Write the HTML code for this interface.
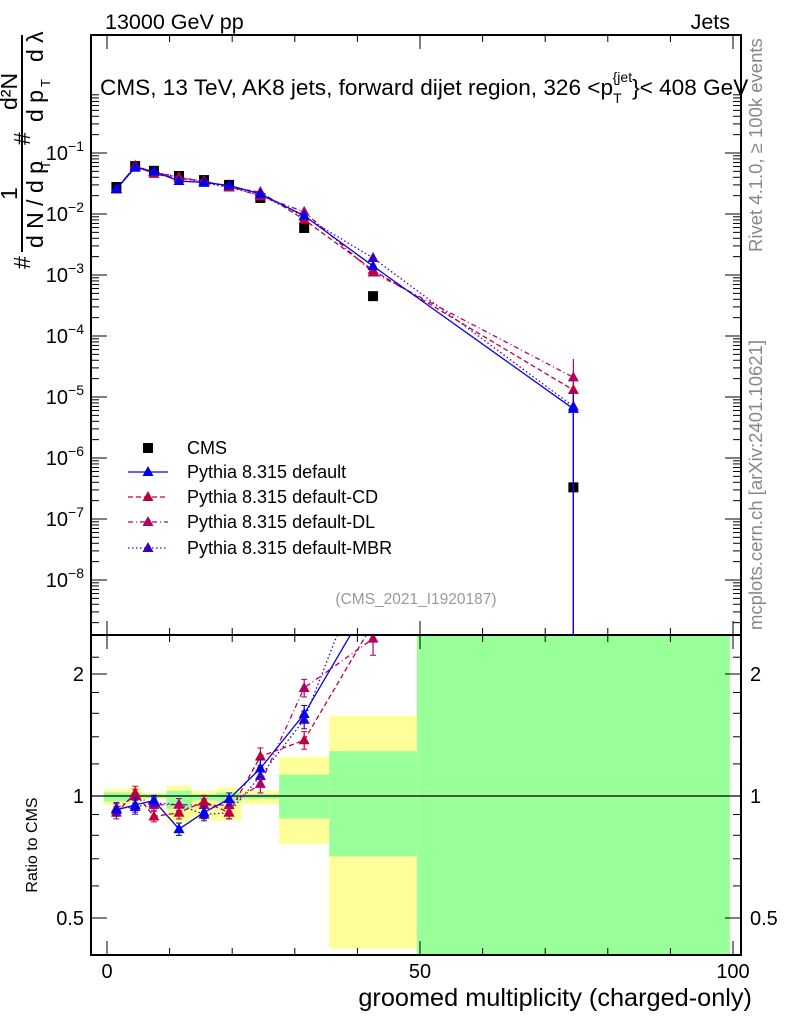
<!DOCTYPE html>
<html><head><meta charset="utf-8"><style>
body{margin:0;background:#fff}
svg{display:block;font-family:"Liberation Sans",sans-serif}
</style></head><body>
<svg id="c" width="786" height="1024" viewBox="0 0 786 1024">
<g id="bands"></g>
<g id="marks"></g>
<g id="axes"></g>
<text x="105" y="29" font-size="21.5">13000 GeV pp</text>
<text x="730" y="29" font-size="21.5" text-anchor="end">Jets</text>
<text x="100" y="95" font-size="22.6">CMS, 13 TeV, AK8 jets, forward dijet region, 326 &lt;p<tspan font-size="14" dy="8">T</tspan><tspan font-size="14" dx="-9" dy="-21">{jet</tspan><tspan dy="13">}&lt; 408 GeV</tspan></text>
<text x="416" y="604" font-size="15.5" fill="#999" text-anchor="middle">(CMS_2021_I1920187)</text>
<text transform="translate(762,252) rotate(-90)" font-size="18.5" fill="#888">Rivet 4.1.0, ≥ 100k events</text>
<text transform="translate(762,630) rotate(-90)" font-size="18.5" fill="#888">mcplots.cern.ch [arXiv:2401.10621]</text>
<g transform="translate(0,272) rotate(-90)" font-size="23">
<text x="3" y="30">#</text>
<line x1="20" y1="22" x2="237" y2="22" stroke="#000" stroke-width="2"/>
<text x="72" y="17">1</text>
<text x="24" y="43">d N / d p</text>
<text x="103" y="50" font-size="13">T</text>
<text x="127" y="30">#</text>
<text x="162" y="17">d²N</text>
<text x="150" y="43">d p</text>
<text x="185" y="50" font-size="13">T</text>
<text x="210" y="43">d λ</text>
</g>
<text transform="translate(37,845) rotate(-90)" font-size="16" text-anchor="middle">Ratio to CMS</text>
<text x="752" y="1006" font-size="25.3" text-anchor="end">groomed multiplicity (charged-only)</text>
<g id="legend"></g>
</svg>
<script>
const binEdges=[-0.5,3.5,5.5,9.5,13.5,17.5,21.5,27.5,35.5,49.5,99.5];
const xCenters=[1.5,4.5,7.5,11.5,15.5,19.5,24.5,31.5,42.5,74.5];
const cms=[0.0277,0.061,0.051,0.042,0.036,0.030,0.0183,0.0059,4.5e-4,3.3e-7];
const pyDefault=[0.0256,0.058,0.0497,0.0348,0.0328,0.0295,0.0214,0.0094,1.4e-3,6.4e-6];
const pyCD=[0.0252,0.062,0.0454,0.0382,0.0349,0.0273,0.0229,0.0081,1.2e-3,1.3e-5];
const pyDL=[0.0258,0.061,0.0485,0.040,0.0342,0.0285,0.0196,0.0109,1.1e-3,2.1e-5];
const pyMBR=[0.0258,0.0573,0.049,0.040,0.0324,0.0273,0.0205,0.0091,1.9e-3,7e-6];
const mcErr=[0.035,0.04,0.03,0.035,0.035,0.035,0.05,0.05,0.09,1.0];
const statHi=[1.02,1.02,1.01,1.03,1.01,1.02,1.01,1.13,1.29,4];
const statLo=[0.97,0.97,0.99,0.93,0.975,0.97,0.985,0.88,0.71,0.2];
const totHi=[1.04,1.05,1.02,1.06,1.03,1.05,1.03,1.25,1.58,4];
const totLo=[0.95,0.96,0.98,0.86,0.87,0.87,0.955,0.76,0.42,0.2];
const xTicks=[0,50,100];
const yDecades=[-1,-2,-3,-4,-5,-6,-7,-8];
const rTicks=[2,1,0.5];

const NS="http://www.w3.org/2000/svg";
const L=91,R=741,T=35,M=635,B=955;
const X=v=>107+6.26*v;
const Y=v=>153-61*(Math.log10(v)+1);
const RY=r=>796-122*Math.log2(r);
function el(tag,attrs,parent){const e=document.createElementNS(NS,tag);for(const k in attrs)e.setAttribute(k,attrs[k]);parent.appendChild(e);return e;}
const bands=document.getElementById('bands'),marks=document.getElementById('marks'),axes=document.getElementById('axes'),legend=document.getElementById('legend');
const clampR=y=>Math.max(M,Math.min(B,y));
for(let i=0;i<cms.length;i++){
  const x1=X(binEdges[i]),x2=X(binEdges[i+1]);
  let y1=clampR(RY(totHi[i])),y2=clampR(RY(totLo[i]));
  const yb=el('rect',{x:x1,y:y1,width:x2-x1,height:y2-y1,fill:'#ffff99'},bands);
  
  
  y1=clampR(RY(statHi[i]));y2=clampR(RY(statLo[i]));
  const gb=el('rect',{x:x1,y:y1,width:x2-x1,height:y2-y1,fill:'#99ff99'},bands);
  
  
}
el('line',{x1:L,x2:R,y1:RY(1),y2:RY(1),stroke:'#000','stroke-width':1.3},bands);
const defs=el('defs',{},document.getElementById('c'));
const cp1=el('clipPath',{id:'top'},defs);el('rect',{x:L,y:T,width:R-L,height:M-T},cp1);
const cp2=el('clipPath',{id:'bot'},defs);el('rect',{x:L,y:M,width:R-L,height:B-M},cp2);
const gTop=el('g',{'clip-path':'url(#top)'},marks);
const gBot=el('g',{'clip-path':'url(#bot)'},marks);
function tri(g,x,y,c){return el('path',{d:`M${x},${y-6}L${x+5.5},${y+4}L${x-5.5},${y+4}Z`,fill:c},g);}
const series=[
 {name:'Pythia 8.315 default',vals:pyDefault,c:'#0000ee',dash:'',key:'default'},
 {name:'Pythia 8.315 default-CD',vals:pyCD,c:'#c0003a',dash:'5,3',key:'cd'},
 {name:'Pythia 8.315 default-DL',vals:pyDL,c:'#b0006a',dash:'5,3,1,3',key:'dl'},
 {name:'Pythia 8.315 default-MBR',vals:pyMBR,c:'#3a00bb',dash:'1.5,2.5',key:'mbr'}];
cms.forEach((v,i)=>{const s=el('rect',{x:X(xCenters[i])-5,y:Y(v)-5,width:10,height:10,fill:'#000'},gTop);
 
 });
series.slice().reverse().forEach(s=>{
  const pts=s.vals.map((v,i)=>X(xCenters[i])+','+Y(v)).join(' ');
  const pl=el('polyline',{points:pts,fill:'none',stroke:s.c,'stroke-width':1.3,'stroke-dasharray':s.dash},gTop);
  
  
  s.vals.forEach((v,i)=>{
    const x=X(xCenters[i]);
    const hi=v*(1+mcErr[i]),lo=v*(1-mcErr[i]);
    el('line',{x1:x,x2:x,y1:Y(hi),y2:lo>0?Y(lo):M,stroke:s.c,'stroke-width':1.2},gTop);
    const t=tri(gTop,x,Y(v),s.c);
    
    
  });
  const rpts=s.vals.map((v,i)=>X(xCenters[i])+','+RY(v/cms[i])).join(' ');
  const rl=el('polyline',{points:rpts,fill:'none',stroke:s.c,'stroke-width':1.3,'stroke-dasharray':s.dash},gBot);
  
  
  s.vals.forEach((v,i)=>{
    const r=v/cms[i],x=X(xCenters[i]);
    const e=Math.min(mcErr[i],0.09);
    el('line',{x1:x,x2:x,y1:RY(r*(1+e)),y2:RY(r*(1-e)),stroke:s.c,'stroke-width':1.2},gBot);
    el('line',{x1:x-3,x2:x+3,y1:RY(r*(1+e)),y2:RY(r*(1+e)),stroke:s.c},gBot);
    el('line',{x1:x-3,x2:x+3,y1:RY(r*(1-e)),y2:RY(r*(1-e)),stroke:s.c},gBot);
    const t=tri(gBot,x,RY(r),s.c);
    
    
  });
});
el('rect',{x:L,y:T,width:R-L,height:M-T,fill:'none',stroke:'#000','stroke-width':2},axes);
el('rect',{x:L,y:M,width:R-L,height:B-M,fill:'none',stroke:'#000','stroke-width':2},axes);
for(let v=0;v<=100;v+=10){const x=X(v),len=(v%50===0)?14:7;
  [T,M].forEach(y=>el('line',{x1:x,x2:x,y1:y,y2:y+len,stroke:'#000'},axes));
  [M,B].forEach(y=>el('line',{x1:x,x2:x,y1:y,y2:y-len,stroke:'#000'},axes));}
xTicks.forEach(v=>{const t=el('text',{x:X(v),y:978,'font-size':20,'text-anchor':'middle'},axes);t.textContent=v;
 
 });
for(let d=-9;d<=-1;d++){for(let m=1;m<10;m++){const v=m*Math.pow(10,d),y=Y(v);if(y<T||y>M)continue;
  const len=m===1?16:8;el('line',{x1:L,x2:L+len,y1:y,y2:y,stroke:'#000'},axes);el('line',{x1:R,x2:R-len,y1:y,y2:y,stroke:'#000'},axes);}}
yDecades.forEach(d=>{const t=el('text',{x:84,y:Y(Math.pow(10,d))+7,'font-size':20,'text-anchor':'end'},axes);
 t.innerHTML='10<tspan font-size="14" dy="-9">'+(d<0?'−':'')+Math.abs(d)+'</tspan>';
 
 });
[0.4,0.5,0.6,0.7,0.8,0.9,1,1.2,1.4,1.6,1.8,2,2.2].forEach(r=>{const y=RY(r);if(y<M||y>B)return;const len=rTicks.includes(r)?16:8;
 el('line',{x1:L,x2:L+len,y1:y,y2:y,stroke:'#000'},axes);el('line',{x1:R,x2:R-len,y1:y,y2:y,stroke:'#000'},axes);});
rTicks.forEach(r=>{[[84,'end'],[750,'start']].forEach(([x,a])=>{const t=el('text',{x:x,y:RY(r)+7,'font-size':20,'text-anchor':a},axes);t.textContent=r;
 
 });});
const ly=[448,472,497,522,548];
el('rect',{x:143,y:ly[0]-5,width:10,height:10,fill:'#000'},legend);
const lt0=el('text',{x:187,y:ly[0]+6,'font-size':18},legend);lt0.textContent='CMS';


series.forEach((s,i)=>{const y=ly[i+1];
 el('line',{x1:128,x2:168,y1:y,y2:y,stroke:s.c,'stroke-width':1.3,'stroke-dasharray':s.dash},legend);
 tri(legend,148,y,s.c);
 const t=el('text',{x:187,y:y+6,'font-size':18},legend);t.textContent=s.name;
 
 });
</script>
</body></html>
